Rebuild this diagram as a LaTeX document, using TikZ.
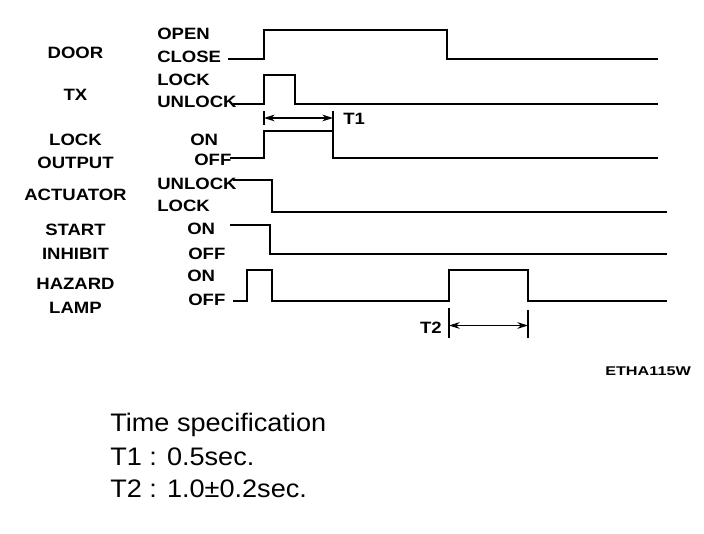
\documentclass[tikz,border=0pt]{standalone}
\usepackage{fontspec}
\setmainfont{Liberation Sans}
\newfontfamily\labfont{Liberation Sans Bold}[FakeStretch=1.13]
\newfontfamily\codefont{Liberation Sans Bold}[FakeStretch=1.28]
\newfontfamily\specfont{Liberation Sans}[FakeStretch=1.07]
\usetikzlibrary{arrows.meta}
\begin{document}
\begin{tikzpicture}[x=0.75pt,y=-0.75pt,
  lab/.style={font=\labfont\fontsize{12.3}{12.3}\selectfont, inner sep=0pt, text height=8.8pt, text depth=0pt},
  spec/.style={font=\specfont\fontsize{19}{19}\selectfont, inner sep=0pt},
  sig/.style={line width=1.8pt, line join=miter},
  dim/.style={line width=0.9pt, {Stealth[length=8pt,width=5pt]}-{Stealth[length=8pt,width=5pt]}},
  ext/.style={line width=0.8pt}]
\useasboundingbox (0,0) rectangle (704,534);
% left labels
\node[lab] (door) at (75.5,52.5) {DOOR};
\node[lab] (tx) at (75.5,95) {TX};
\node[lab] (lock) at (75.5,139.5) {LOCK};
\node[lab] (output) at (75.5,162.5) {OUTPUT};
\node[lab] (act) at (75.5,195) {ACTUATOR};
\node[lab] (start) at (75.5,230) {START};
\node[lab] (inhibit) at (75.5,254) {INHIBIT};
\node[lab] (hazard) at (75.5,284) {HAZARD};
\node[lab] (lamp) at (75.5,308) {LAMP};
% state labels
\node[lab,anchor=west] (open) at (157,34) {OPEN};
\node[lab,anchor=west] (close) at (157,56.5) {CLOSE};
\node[lab,anchor=west] (txlock) at (157,80) {LOCK};
\node[lab,anchor=west] (txunlock) at (157,101.5) {UNLOCK};
\node[lab,anchor=west] (lon) at (190,140) {ON};
\node[lab,anchor=west] (loff) at (194,160) {OFF};
\node[lab,anchor=west] (aunlock) at (157,183.5) {UNLOCK};
\node[lab,anchor=west] (alock) at (157,205.5) {LOCK};
\node[lab,anchor=west] (son) at (187,228.5) {ON};
\node[lab,anchor=west] (soff) at (188,254) {OFF};
\node[lab,anchor=west] (hon) at (187,276) {ON};
\node[lab,anchor=west] (hoff) at (188,300) {OFF};
% signals
\draw[sig] (228,59) -- (264,59) -- (264,30) -- (447,30) -- (447,59) -- (658,59);
\draw[sig] (233,104) -- (264,104) -- (264,75) -- (295,75) -- (295,104) -- (658,104);
\draw[sig] (230,158) -- (264,158) -- (264,131) -- (333,131) -- (333,158) -- (658,158);
\draw[sig] (233,180) -- (272,180) -- (272,212) -- (667,212);
\draw[sig] (230,225) -- (270,225) -- (270,254) -- (667,254);
\draw[sig] (233,301) -- (247,301) -- (247,270) -- (272,270) -- (272,301) -- (449,301) -- (449,270) -- (528,270) -- (528,301) -- (667,301);
% T1
\coordinate (t1a) at (264,118);
\coordinate (t1b) at (333,118);
\draw[ext] (264,111) -- (264,125);
\draw[ext] (333,111) -- (333,131);
\draw[dim] (t1a) -- (t1b);
\node[lab,anchor=west] (t1) at (343,119) {T1};
% T2
\coordinate (t2a) at (449,325.5);
\coordinate (t2b) at (528,325.5);
\draw[ext] (449,308) -- (449,338);
\draw[ext] (528,310) -- (528,338);
\draw[dim] (t2a) -- (t2b);
\node[lab,anchor=east] (t2) at (442,328) {T2};
% code
\node[font=\codefont\fontsize{9.5}{9.5}\selectfont, inner sep=0pt, anchor=west, text height=6.8pt, text depth=0pt] (code) at (605,370.5) {ETHA115W};
% specification
\node[spec, anchor=base west] (spec0) at (110,432) {Time specification};
\node[spec, anchor=base west] (spec1) at (110,466) {T1 : 0.5sec.};
\node[spec, anchor=base west] (spec2) at (110,498) {T2 : 1.0±0.2sec.};
\end{tikzpicture}
\end{document}
